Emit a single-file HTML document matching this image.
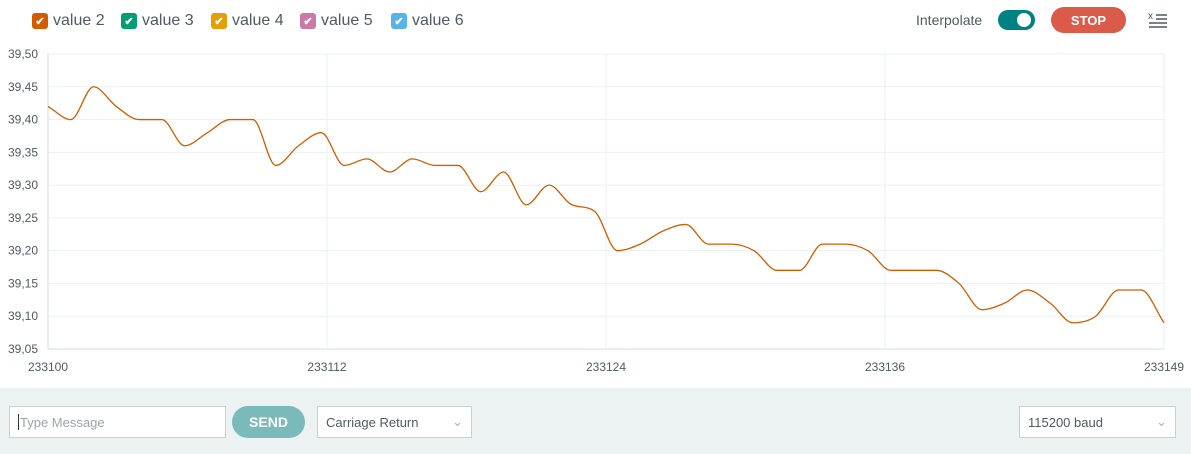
<!DOCTYPE html>
<html><head><meta charset="utf-8">
<style>
body{margin:0;width:1191px;height:454px;overflow:hidden;background:#fff;font-family:"Liberation Sans",sans-serif;position:relative}
.leg{position:absolute;top:11px;height:20px;display:flex;align-items:center;font-size:16px;color:#4e5b61}
.cb{width:16px;height:16px;border-radius:3px;margin-right:5px;display:flex;align-items:center;justify-content:center;color:#fff;font-size:11px;font-weight:bold}
.bottom{position:absolute;left:0;top:388px;width:1191px;height:66px;background:#ecf1f1}
.box{position:absolute;background:#fff;border:1px solid #c9d2d2;box-sizing:border-box;font-size:13px;color:#4e5b61;display:flex;align-items:center;padding-left:8px}
</style></head><body>
<div class="leg" style="left:32px"><div class="cb" style="background:#d35c00">✔</div>value 2</div>
<div class="leg" style="left:121px"><div class="cb" style="background:#009e73">✔</div>value 3</div>
<div class="leg" style="left:211px"><div class="cb" style="background:#e69f00">✔</div>value 4</div>
<div class="leg" style="left:300px"><div class="cb" style="background:#cc79a7">✔</div>value 5</div>
<div class="leg" style="left:391px"><div class="cb" style="background:#56b4e9">✔</div>value 6</div>
<div style="position:absolute;left:916px;top:11px;font-size:14px;color:#4e5b61;line-height:18px">Interpolate</div>
<div style="position:absolute;left:998px;top:10px;width:37px;height:20px;border-radius:10px;background:#008184"><div style="position:absolute;right:4px;top:3px;width:14px;height:14px;border-radius:7px;background:#fff"></div></div>
<div style="position:absolute;left:1051px;top:7px;width:75px;height:26px;border-radius:13px;background:#da5b4a;color:#fff;font-size:13px;font-weight:bold;display:flex;align-items:center;justify-content:center">STOP</div>
<div style="position:absolute;left:1148px;top:10px;width:20px;height:18px">
<svg width="20" height="18"><text x="0" y="9" font-size="10" fill="#4e5b61" font-family="Liberation Sans">x</text><g stroke="#4e5b61" stroke-width="1.5"><line x1="8" y1="5" x2="19" y2="5"/><line x1="8" y1="9" x2="19" y2="9"/><line x1="1" y1="13" x2="19" y2="13"/><line x1="1" y1="17" x2="19" y2="17"/></g></svg></div>
<svg id="chart" width="1191" height="388" style="position:absolute;left:0;top:0"></svg>
<div class="bottom"></div>
<div class="box" style="left:9px;top:406px;width:217px;height:32px;color:#9aa5a8"><span style="border-left:1px solid #333;height:16px;margin-right:1px"></span>Type Message</div>
<div style="position:absolute;left:232px;top:406px;width:73px;height:32px;border-radius:16px;background:#7bbaba;color:#fff;font-weight:bold;font-size:14px;display:flex;align-items:center;justify-content:center">SEND</div>
<div class="box" style="left:317px;top:406px;width:155px;height:32px">Carriage Return<span style="position:absolute;right:8px;color:#aab">⌄</span></div>
<div class="box" style="left:1019px;top:406px;width:157px;height:32px">115200 baud<span style="position:absolute;right:8px;color:#aab">⌄</span></div>
<script>
const xStart = 233100;
const xLabels = ["233100","233112","233124","233136","233149"];
const yTicks = [39.50,39.45,39.40,39.35,39.30,39.25,39.20,39.15,39.10,39.05];
const value2 = [39.42,39.40,39.45,39.42,39.40,39.40,39.36,39.38,39.40,39.40,
39.33,39.36,39.38,39.33,39.34,39.32,39.34,39.33,39.33,39.29,
39.32,39.27,39.30,39.27,39.26,39.20,39.21,39.23,39.24,39.21,
39.21,39.20,39.17,39.17,39.21,39.21,39.20,39.17,39.17,39.17,
39.15,39.11,39.12,39.14,39.12,39.09,39.10,39.14,39.14,39.09];
const L=48,R=1164,T=54,B=349,yMin=39.05,yMax=39.50;
const svg=document.getElementById('chart'),NS='http://www.w3.org/2000/svg';
function xS(i){return L+(R-L)*i/(value2.length-1);}
function yS(v){return B-(v-yMin)/(yMax-yMin)*(B-T);}
function mk(t,a){const e=document.createElementNS(NS,t);for(const k in a)e.setAttribute(k,a[k]);svg.appendChild(e);return e;}
yTicks.forEach(v=>{
 const g=mk('line',{x1:L,x2:R,y1:yS(v),y2:yS(v),stroke:v===yMin?'#d5dcdc':'#ebf0f0','stroke-width':1});
 
 
 const t=mk('text',{x:38,y:yS(v)+4,'text-anchor':'end','font-size':12,fill:'#4e5b61','font-family':'Liberation Sans'});
 t.textContent=v.toFixed(2).replace('.',',');
 
 
});
xLabels.forEach((s,k)=>{
 const x=L+(R-L)*k/(xLabels.length-1);
 const g=mk('line',{x1:x,x2:x,y1:T,y2:B,stroke:k===0?'#d5dcdc':'#ebf0f0','stroke-width':1});
 
 
 const t=mk('text',{x:x,y:371,'text-anchor':'middle','font-size':12,fill:'#4e5b61','font-family':'Liberation Sans'});
 t.textContent=s;
 
 
});
// monotone cubic
const n=value2.length,px=value2.map((v,i)=>xS(i)),py=value2.map(yS);
const d=[],m=[];
for(let i=0;i<n-1;i++)d.push((py[i+1]-py[i])/(px[i+1]-px[i]));
m[0]=d[0];m[n-1]=d[n-2];
for(let i=1;i<n-1;i++)m[i]=(d[i-1]*d[i]<=0)?0:(d[i-1]+d[i])/2;
for(let i=0;i<n-1;i++){if(d[i]===0){m[i]=0;m[i+1]=0;continue;}const a=m[i]/d[i],b=m[i+1]/d[i],s=a*a+b*b;if(s>9){const t=3/Math.sqrt(s);m[i]=t*a*d[i];m[i+1]=t*b*d[i];}}
let p='M'+px[0]+','+py[0];
for(let i=0;i<n-1;i++){const h=(px[i+1]-px[i])/3;p+=' C'+(px[i]+h)+','+(py[i]+m[i]*h)+' '+(px[i+1]-h)+','+(py[i+1]-m[i+1]*h)+' '+px[i+1]+','+py[i+1];}
const ln=mk('path',{d:p,fill:'none',stroke:'#d35c00','stroke-width':1.3});


</script>
</body></html>
